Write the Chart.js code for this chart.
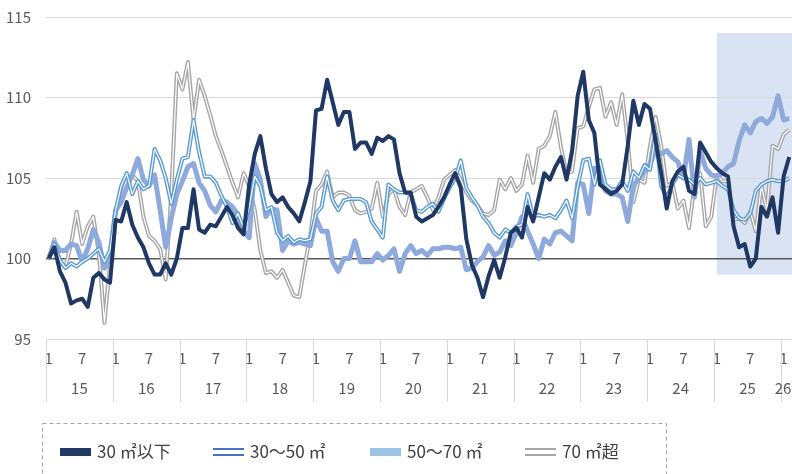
<!DOCTYPE html>
<html lang="ja">
<head>
<meta charset="utf-8">
<script src="https://cdn.jsdelivr.net/npm/chart.js@4.4.1/dist/chart.umd.min.js"></script>
<style>
  html, body { margin: 0; padding: 0; background: #fff; }
  #wrap { width: 792px; height: 474px; overflow: hidden; }
</style>
</head>
<body>
<div id="wrap"><canvas id="grafico" width="792" height="474"></canvas></div>
<script>
// categorias: anos (2 digitos) e meses por ano
const anos = ['15', '16', '17', '18', '19', '20', '21', '22', '23', '24', '25', '26']
const mesesPorAno = [12, 12, 12, 12, 12, 12, 12, 12, 12, 12, 12, 2]
const mesesMarcados = [1, 7]
const ticksY = [95, 100, 105, 110, 115]
const faixaDestaque = { inicio: 120, min: 99, max: 114 } // jan/2025 em diante

// series (indice, 2015/1 = 100)
const ate30 = [
  100.0, 100.7, 99.2, 98.5, 97.2, 97.4, 97.5, 97.0, 98.8, 99.1, 98.7, 98.5,
  102.4, 102.3, 103.5, 102.1, 101.3, 100.7, 99.7, 99.0, 99.0, 99.7, 99.0, 100.0,
  101.9, 101.9, 104.3, 101.8, 101.6, 102.1, 102.0, 102.6, 103.2, 102.7, 101.9, 101.5,
  104.6, 106.5, 107.6, 105.6, 104.0, 103.5, 103.8, 103.2, 102.8, 102.3, 103.5, 104.8,
  109.2, 109.3, 111.1, 109.7, 108.3, 109.1, 109.1, 106.8, 107.2, 107.2, 106.5, 107.5,
  107.3, 107.6, 107.4, 105.3, 104.1, 104.1, 102.6, 102.3, 102.5, 102.7, 103.2, 103.8,
  104.6, 105.3, 104.4, 101.2, 99.6, 98.8, 97.6, 98.9, 99.9, 98.8, 100.1, 101.6,
  101.9, 101.3, 103.2, 102.3, 103.8, 105.3, 104.9, 105.7, 106.3, 104.9, 106.7, 110.1,
  111.6, 108.6, 107.8, 104.6, 104.3, 104.0, 104.2, 104.6, 107.0, 109.8, 108.3, 109.6,
  109.3, 107.3, 105.3, 103.1, 104.8, 105.4, 105.7, 104.2, 104.0, 107.2, 106.6, 106.0,
  105.6, 105.3, 105.1, 102.0, 100.7, 100.9, 99.5, 100.0, 103.2, 102.6, 103.8, 101.6,
  105.1, 106.3,
]
const de30a50 = [
  100.0, 100.9, 99.9, 99.4, 99.7, 99.5, 99.8, 100.0, 100.3, 100.6, 99.8, 100.5,
  103.0, 104.5, 105.3, 104.0, 104.8, 104.3, 104.5, 106.8, 106.1, 105.0, 103.4, 104.9,
  106.2, 106.3, 108.6, 106.6, 105.1, 105.1, 104.7, 103.9, 103.2, 102.2, 102.8, 101.9,
  103.2, 105.1, 104.5, 103.0, 103.2, 101.6, 101.1, 101.4, 101.0, 101.2, 101.1, 101.2,
  102.8, 103.2, 105.1, 103.6, 103.0, 103.6, 103.7, 103.7, 103.7, 103.5, 102.3, 101.8,
  101.3, 104.6, 104.3, 104.1, 104.1, 104.0, 103.0, 102.9, 103.2, 103.4, 102.9, 103.7,
  104.4, 105.0, 106.1, 104.4, 103.8, 103.3, 102.6, 102.2, 101.6, 101.3, 101.8, 101.6,
  102.0, 102.1, 104.0, 102.6, 102.7, 102.6, 102.7, 102.5, 103.0, 103.6, 102.5, 104.5,
  106.1, 106.2, 104.6, 106.1, 104.6, 104.3, 104.3, 104.8, 104.2, 105.4, 105.0, 105.8,
  105.5, 107.7, 104.5, 103.8, 104.6, 105.2, 105.0, 104.9, 104.6, 105.0, 104.6, 104.7,
  104.8, 104.5, 104.3, 103.0, 102.5, 102.4, 102.8, 104.2, 104.6, 104.8, 104.9, 104.8,
  104.8, 105.0,
]
const de50a70 = [
  100.0, 101.0, 100.5, 100.5, 100.9, 100.8, 99.8, 100.6, 101.8, 101.0, 99.4, 100.0,
  103.0, 103.5, 104.4, 105.2, 106.2, 104.9, 104.5, 105.2, 103.0, 100.7, 102.5, 104.0,
  104.8, 105.7, 105.9, 104.7, 104.2, 103.3, 102.9, 103.6, 103.5, 103.2, 102.7, 101.7,
  101.3, 105.9, 104.9, 102.6, 103.1, 103.0, 100.5, 101.1, 100.9, 101.0, 100.9, 100.8,
  102.5, 101.7, 101.7, 99.8, 99.2, 100.0, 100.0, 101.1, 99.8, 99.8, 99.8, 100.3,
  99.9, 100.2, 100.6, 99.2, 100.3, 100.8, 100.3, 100.5, 100.2, 100.6, 100.6, 100.7,
  100.7, 100.6, 100.7, 99.3, 99.4, 99.8, 100.1, 100.8, 100.2, 100.4, 101.1, 100.8,
  101.6, 102.6, 101.7, 100.9, 100.0, 101.2, 100.9, 101.6, 101.7, 101.4, 101.1, 104.7,
  104.6, 102.8, 105.6, 105.3, 104.2, 104.0, 104.0, 103.8, 102.3, 104.5, 105.0, 105.4,
  105.9, 106.7, 106.5, 106.7, 106.3, 106.0, 105.0, 107.4, 103.8, 106.7, 105.6, 105.2,
  105.1, 105.3, 105.7, 105.9, 107.3, 108.3, 107.8, 108.5, 108.7, 108.4, 108.8, 110.1,
  108.6, 108.7,
]
const acima70 = [
  100.0, 101.2, 99.7, 99.5, 100.9, 102.9, 100.9, 102.0, 102.6, 100.3, 96.0, 99.7,
  102.8, 103.8, 104.9, 105.2, 104.8, 102.6, 101.4, 101.1, 100.6, 98.7, 104.0, 111.5,
  110.5, 112.2, 108.6, 111.1, 110.1, 108.9, 107.6, 106.7, 105.7, 104.7, 103.8, 105.3,
  104.5, 103.0, 100.5, 99.1, 99.2, 98.8, 99.3, 98.5, 97.7, 97.6, 99.6, 101.5,
  104.2, 104.6, 105.4, 103.8, 104.1, 104.1, 103.9, 103.0, 102.8, 102.9, 103.1, 104.7,
  102.6, 104.0, 104.3, 103.2, 102.7, 104.1, 104.3, 104.5, 103.8, 103.0, 103.8, 104.9,
  105.2, 105.5, 104.9, 104.1, 103.6, 103.3, 102.8, 102.7, 103.0, 104.9, 104.3, 105.0,
  104.2, 104.6, 106.4, 104.7, 106.8, 107.0, 107.6, 109.1, 106.9, 105.3, 105.4, 108.1,
  108.2, 109.4, 110.5, 110.6, 108.8, 109.7, 108.3, 110.2, 107.3, 103.5, 104.9, 104.7,
  107.0, 108.8, 107.0, 104.5, 104.7, 103.1, 103.6, 101.9, 104.6, 105.3, 102.0, 102.6,
  105.2, 104.8, 104.8, 102.4, 102.5, 102.2, 102.9, 101.7, 104.5, 103.0, 107.0, 106.8,
  107.7, 108.0,
]

// monta os rotulos do eixo x (um por mes)
const rotulos = []
const mesDoIndice = []
const inicioAno = []
anos.forEach((ano, k) => {
  inicioAno.push(rotulos.length)
  for (let m = 1; m <= mesesPorAno[k]; m++) {
    rotulos.push(ano + '/' + m)
    mesDoIndice.push(m)
  }
})

const fonte = "'Noto Sans CJK JP', 'Noto Sans', sans-serif"
const corTexto = '#595959'
const corGrade = '#D9D9D9'

// faixa azul clara atras das linhas (2025 em diante)
const faixaPlugin = {
  id: 'faixa',
  beforeDraw(chart) {
    const { ctx, chartArea, scales } = chart
    const x0 = scales.x.getPixelForValue(faixaDestaque.inicio)
    const y0 = scales.y.getPixelForValue(faixaDestaque.max)
    const y1 = scales.y.getPixelForValue(faixaDestaque.min)
    ctx.save()
    ctx.fillStyle = '#DAE3F3'
    ctx.fillRect(x0, y0, chartArea.right - x0, y1 - y0)
    ctx.restore()
  },
}

// separadores e rotulos dos anos abaixo do eixo
const anosPlugin = {
  id: 'anos',
  afterDraw(chart) {
    const { ctx, chartArea, scales } = chart
    const x = scales.x
    const n = rotulos.length
    const borda = (i) => {
      if (i <= 0) return chartArea.left
      if (i >= n) return chartArea.right
      return (x.getPixelForValue(i - 1) + x.getPixelForValue(i)) / 2
    }
    ctx.save()
    ctx.strokeStyle = corGrade
    ctx.lineWidth = 1
    ctx.fillStyle = corTexto
    ctx.font = '15px ' + fonte
    ctx.textAlign = 'center'
    ctx.textBaseline = 'middle'
    anos.forEach((ano, k) => {
      const a = borda(inicioAno[k])
      const b = borda(inicioAno[k] + mesesPorAno[k])
      const xa = Math.round(a) + 0.5
      ctx.beginPath()
      ctx.moveTo(xa, chartArea.bottom)
      ctx.lineTo(xa, 402)
      ctx.stroke()
      // o ultimo ano e curto, entao segura o texto dentro da tela
      const centro = Math.min((a + b) / 2, chartArea.right - 9)
      ctx.fillText(ano, centro, 388)
    })
    ctx.restore()
  },
}

// legenda desenhada a mao (linhas duplas nao existem na legenda padrao)
const legendaPlugin = {
  id: 'legendaCaixa',
  afterDraw(chart) {
    const ctx = chart.ctx
    ctx.save()
    ctx.strokeStyle = '#A6A6A6'
    ctx.lineWidth = 1
    ctx.setLineDash([4, 3])
    ctx.strokeRect(42.5, 423.5, 624, 80)
    ctx.setLineDash([])

    const yc = 452
    const itens = [
      { x: 60, tipo: 'cheio', cor: '#1F3864', texto: '30 ㎡以下' },
      { x: 213, tipo: 'duplo', cor: '#4472C4', texto: '30〜50 ㎡' },
      { x: 370, tipo: 'cheio', cor: '#9DC3E6', texto: '50〜70 ㎡' },
      { x: 525, tipo: 'duplo', cor: '#A6A6A6', texto: '70 ㎡超' },
    ]
    ctx.font = '17px ' + fonte
    ctx.textBaseline = 'middle'
    ctx.textAlign = 'left'
    itens.forEach((it) => {
      ctx.fillStyle = it.cor
      if (it.tipo === 'cheio') {
        ctx.fillRect(it.x, yc - 4, 31, 8)
      } else {
        ctx.fillRect(it.x, yc - 4, 31, 2)
        ctx.fillRect(it.x, yc + 2, 31, 2)
      }
      ctx.fillStyle = '#404040'
      ctx.fillText(it.texto, it.x + 37, yc)
    })
    ctx.restore()
  },
}

const linha = (dados, cor, largura, ordem) => ({
  data: dados,
  borderColor: cor,
  borderWidth: largura,
  pointRadius: 0,
  tension: 0,
  fill: false,
  borderJoinStyle: 'round',
  order: ordem,
})

const ctx = document.getElementById('grafico').getContext('2d')
const grafico = new Chart(ctx, {
  type: 'line',
  data: {
    labels: rotulos,
    datasets: [
      linha(ate30, '#1F3864', 4, 0),
      linha(de30a50, '#FFFFFF', 1.2, 1),
      linha(de30a50, '#5B9BD5', 4, 2),
      linha(de50a70, '#8EA9DB', 5, 3),
      linha(acima70, '#FFFFFF', 1.2, 4),
      linha(acima70, '#A6A6A6', 4, 5),
    ],
  },
  options: {
    responsive: false,
    animation: false,
    layout: { padding: { top: 17, left: 0, right: 0, bottom: 0 } },
    plugins: {
      legend: { display: false },
      tooltip: { enabled: false },
    },
    scales: {
      x: {
        offset: true,
        grid: { display: false, drawTicks: false },
        border: { color: corGrade },
        ticks: {
          autoSkip: false,
          maxRotation: 0,
          padding: 10,
          color: corTexto,
          font: { family: fonte, size: 15 },
          callback: (v, i) => (mesesMarcados.includes(mesDoIndice[i]) ? String(mesDoIndice[i]) : ''),
        },
        afterFit: (s) => {
          s.height = 135
          s.paddingLeft = 0
          s.paddingRight = 0
        },
      },
      y: {
        min: ticksY[0],
        max: ticksY[ticksY.length - 1],
        afterBuildTicks: (s) => {
          s.ticks = ticksY.map((v) => ({ value: v }))
        },
        grid: {
          drawTicks: false,
          color: (c) => (c.tick && c.tick.value === 100 ? '#595959' : corGrade),
          lineWidth: (c) => (c.tick && c.tick.value === 100 ? 1.5 : 1),
        },
        border: { display: false },
        ticks: {
          padding: 15,
          color: corTexto,
          font: { family: fonte, size: 15 },
        },
        afterFit: (s) => {
          s.width = 46
          s.paddingTop = 0
          s.paddingBottom = 0
        },
      },
    },
  },
  plugins: [faixaPlugin, anosPlugin, legendaPlugin],
})
</script>
</body>
</html>
